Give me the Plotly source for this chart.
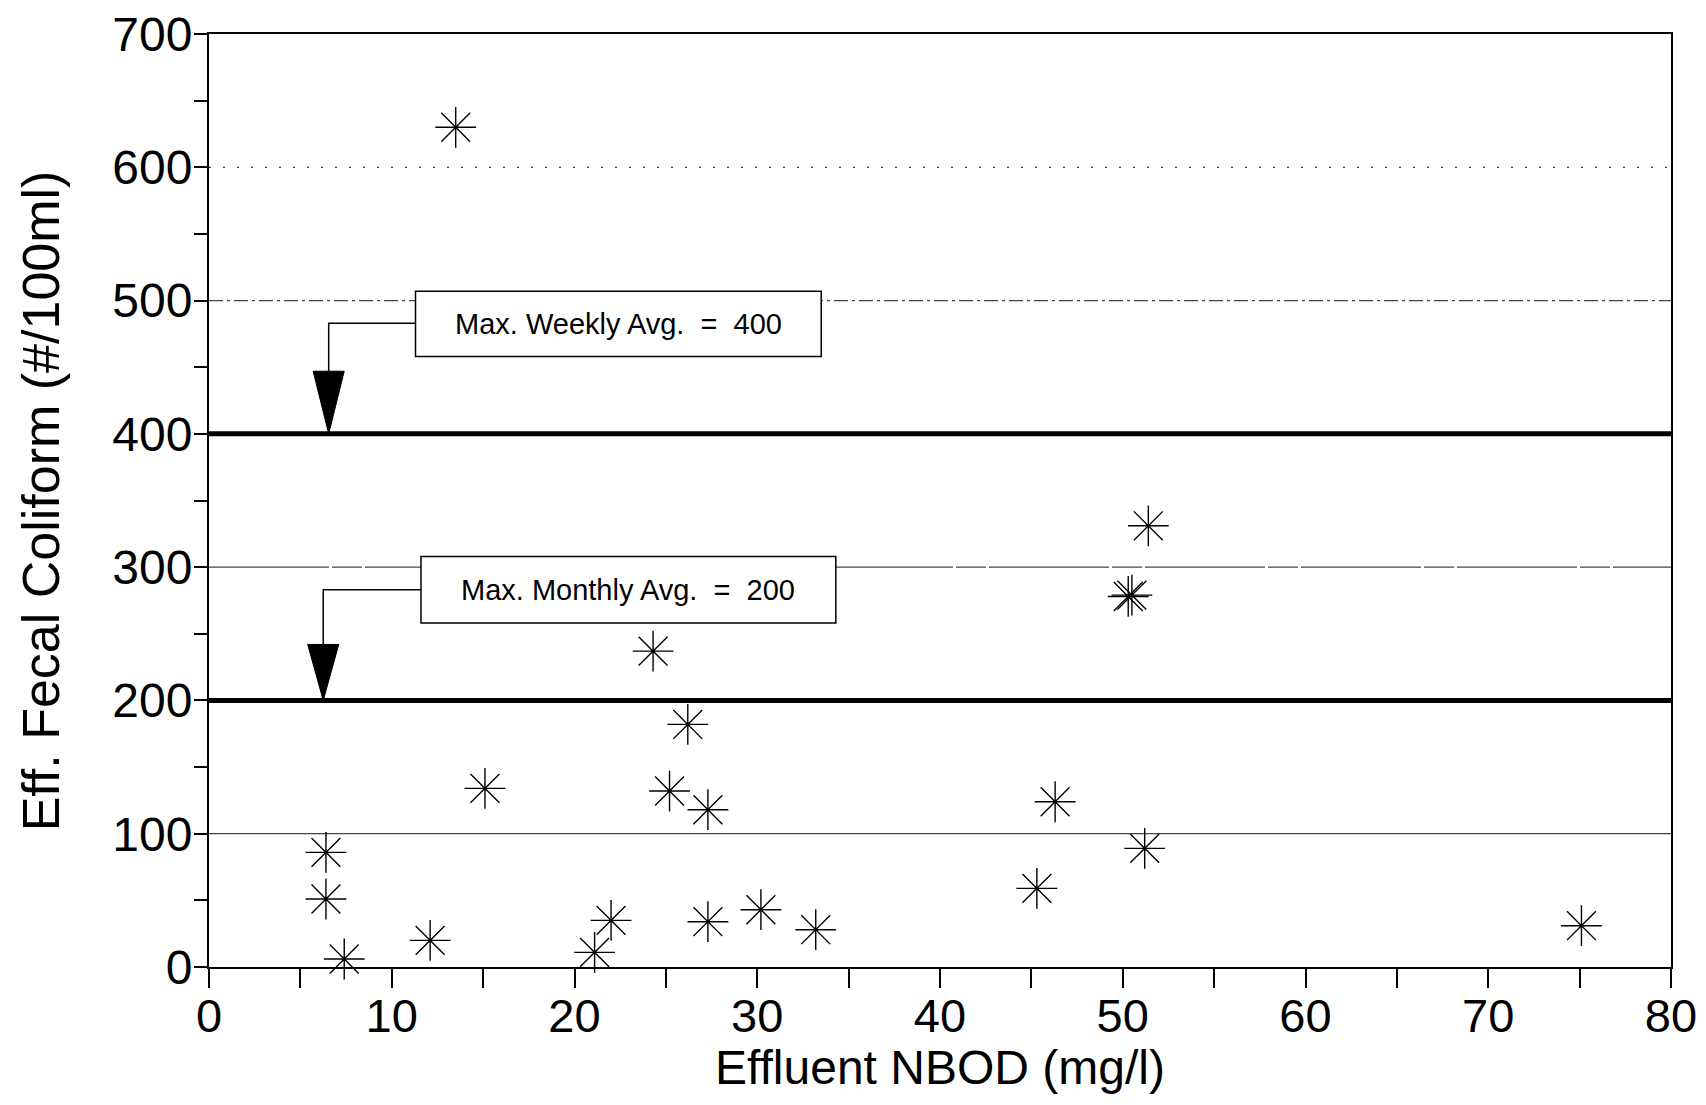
import plotly.graph_objects as go

# ---- data ----
nbod = [13.5, 51.4, 50.3, 50.5, 24.3, 26.2, 15.1, 25.2, 27.3, 46.3, 6.4, 6.4,
        51.2, 45.3, 7.4, 12.1, 15.2, 21.1, 22.0, 27.3, 30.2, 33.2, 75.1]
coliform = [630, 331, 278, 279, 237, 182, 134, 132, 118, 124, 86, 51,
            89, 59, 6, 20, -1, 11, 35, 34, 43, 28, 31]

limit_values = [400, 200]
limit_labels = ["Max. Weekly Avg.&nbsp;&nbsp;=&nbsp;&nbsp;400",
                "Max. Monthly Avg.&nbsp;&nbsp;=&nbsp;&nbsp;200"]
# label boxes: x0, x1, y0, y1 ; connector y ; arrow x
box_x0 = [11.3, 11.6]
box_x1 = [33.5, 34.3]
box_y0 = [458, 258]
box_y1 = [507, 308]
conn_y = [483, 283]
arrow_x = [6.55, 6.25]
arrow_head_top = [447, 242]

grid_values = [100, 300, 500, 600]
grid_dash = ["solid", "120px,3px,30px,3px", "14px,4px,3px,4px", "2px,12px"]

x_ticks = [0, 10, 20, 30, 40, 50, 60, 70, 80]
y_ticks = [0, 100, 200, 300, 400, 500, 600, 700]

x_title = "Effluent NBOD (mg/l)"
y_title = "Eff. Fecal Coliform (#/100ml)"

FONT = "Liberation Sans, Arial, Helvetica, sans-serif"

fig = go.Figure()
fig.add_trace(go.Scatter(
    x=nbod, y=coliform, mode="markers",
    marker=dict(symbol="asterisk-open", size=34, color="black",
                line=dict(color="black", width=1.4)),
    showlegend=False, cliponaxis=False))

shapes = []
for g, d in zip(grid_values, grid_dash):
    shapes.append(dict(type="line", xref="x", yref="y", x0=0, x1=80, y0=g, y1=g,
                       line=dict(color="#444", width=1.2, dash=d), layer="below"))
annotations = []
for i, v in enumerate(limit_values):
    shapes.append(dict(type="line", xref="x", yref="y", x0=0, x1=80, y0=v, y1=v,
                       line=dict(color="black", width=5)))
    shapes.append(dict(type="rect", xref="x", yref="y", x0=box_x0[i], x1=box_x1[i],
                       y0=box_y0[i], y1=box_y1[i], fillcolor="white",
                       line=dict(color="black", width=1.5)))
    shapes.append(dict(type="path", xref="x", yref="y",
                       path=f"M {box_x0[i]},{conn_y[i]} L {arrow_x[i]},{conn_y[i]} L {arrow_x[i]},{arrow_head_top[i]}",
                       line=dict(color="black", width=1.5)))
    hw = 0.85
    shapes.append(dict(type="path", xref="x", yref="y",
                       path=f"M {arrow_x[i]-hw},{arrow_head_top[i]} L {arrow_x[i]+hw},{arrow_head_top[i]} L {arrow_x[i]},{v} Z",
                       fillcolor="black", line=dict(color="black", width=1)))
    annotations.append(dict(xref="x", yref="y", x=(box_x0[i] + box_x1[i]) / 2,
                            y=(box_y0[i] + box_y1[i]) / 2, text=limit_labels[i],
                            showarrow=False, font=dict(family=FONT, size=29, color="black")))

annotations.append(dict(xref="paper", yref="paper", x=0.5, y=-0.108, text=x_title,
                        showarrow=False, xanchor="center", yanchor="middle",
                        font=dict(family=FONT, size=48, color="black")))
annotations.append(dict(xref="paper", yref="paper", x=-0.115, y=0.5, text=y_title,
                        showarrow=False, xanchor="center", yanchor="middle", textangle=-90,
                        font=dict(family=FONT, size=52, color="black")))

fig.update_layout(
    width=1690, height=1089,
    margin=dict(l=201, r=27, t=26, b=130),
    paper_bgcolor="white", plot_bgcolor="white",
    font=dict(family=FONT, color="black"),
    shapes=shapes, annotations=annotations,
    xaxis=dict(range=[0, 80], tickvals=x_ticks, ticktext=[str(t) for t in x_ticks],
               ticks="outside", ticklen=19, tickwidth=2, tickcolor="black",
               minor=dict(dtick=5, tick0=0, ticks="outside", ticklen=19, tickwidth=2, tickcolor="black"),
               showline=True, linecolor="black", linewidth=2, mirror=True,
               showgrid=False, zeroline=False, automargin=False,
               ticklabelstandoff=-12, ticklabeloverflow="allow",
               tickfont=dict(size=47, family=FONT)),
    yaxis=dict(range=[0, 700], tickvals=y_ticks, ticktext=[str(t) for t in y_ticks],
               ticks="outside", ticklen=13, tickwidth=2, tickcolor="black",
               minor=dict(dtick=50, tick0=0, ticks="outside", ticklen=13, tickwidth=2, tickcolor="black"),
               showline=True, linecolor="black", linewidth=2, mirror=True,
               showgrid=False, zeroline=False, automargin=False,
               ticklabelstandoff=-8, ticklabeloverflow="allow",
               tickfont=dict(size=48, family=FONT)),
)

fig.write_html("out.html")
